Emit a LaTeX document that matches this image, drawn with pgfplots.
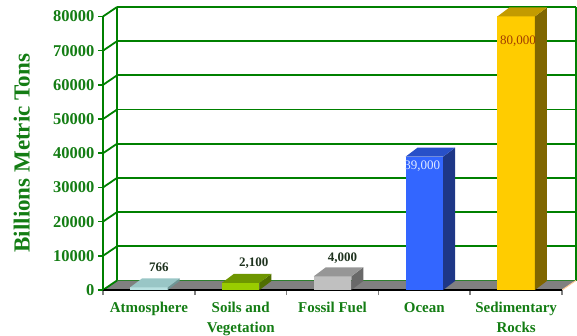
\documentclass[border=0pt]{standalone}
\usepackage{fontspec}
\setmainfont{Liberation Serif}
\usepackage{pgfplots}
\pgfplotsset{compat=1.18}

\definecolor{wallgreen}{RGB}{0,128,0}
\definecolor{labelgreen}{RGB}{20,125,20}
\definecolor{floorgray}{RGB}{128,128,128}
\definecolor{baseline}{RGB}{0,51,0}
\definecolor{peach}{RGB}{255,204,153}
\definecolor{valdark}{RGB}{30,50,30}
\definecolor{vallight}{RGB}{225,235,255}
\definecolor{valbrown}{RGB}{160,60,0}
% bar colours: front / top / side
\definecolor{atmF}{RGB}{185,225,225}
\definecolor{atmT}{RGB}{153,198,198}
\definecolor{atmS}{RGB}{110,150,150}
\definecolor{soilF}{RGB}{153,204,0}
\definecolor{soilT}{RGB}{110,150,0}
\definecolor{soilS}{RGB}{80,110,0}
\definecolor{fosF}{RGB}{192,192,192}
\definecolor{fosT}{RGB}{150,150,150}
\definecolor{fosS}{RGB}{105,105,105}
\definecolor{ocnF}{RGB}{51,102,255}
\definecolor{ocnT}{RGB}{40,80,200}
\definecolor{ocnS}{RGB}{30,55,135}
\definecolor{sedF}{RGB}{255,204,0}
\definecolor{sedT}{RGB}{195,155,0}
\definecolor{sedS}{RGB}{128,102,0}

% top face of a column: the point is the middle of its front top edge
\pgfdeclareplotmark{column top}{%
  \pgfpathmoveto{\pgfqpoint{-18.75pt}{0pt}}%
  \pgfpathlineto{\pgfqpoint{-6.75pt}{9pt}}%
  \pgfpathlineto{\pgfqpoint{30.75pt}{9pt}}%
  \pgfpathlineto{\pgfqpoint{18.75pt}{0pt}}%
  \pgfpathclose
  \pgfusepathqfill
}
% right face of a column, reaching down to the floor by the column's value
\pgfdeclareplotmark{column side}{%
  \pgfpathmoveto{\pgfqpoint{18.75pt}{0pt}}%
  \pgfpathlineto{\pgfqpoint{30.75pt}{9pt}}%
  \pgfpathlineto{\pgfpointadd{\pgfqpoint{30.75pt}{9pt}}{\pgfplotspointaxisdirectionxy{0}{-\barval}}}%
  \pgfpathlineto{\pgfpointadd{\pgfqpoint{18.75pt}{0pt}}{\pgfplotspointaxisdirectionxy{0}{-\barval}}}%
  \pgfpathclose
  \pgfusepathqfill
}

\pgfplotsset{
  front face/.style={ybar, bar width=37.5pt, bar shift=0pt, fill=#1, draw=none},
  top face/.style={only marks, mark=column top, mark options={fill=#1, draw=none}},
  side face/.style={only marks, mark=column side, mark options={fill=#1, draw=none},
    visualization depends on={rawy \as \barval}},
  value label/.style n args={4}{
    point meta=y,
    nodes near coords={\pgfmathprintnumber[fixed,1000 sep={,},assume math mode=true]{\pgfplotspointmeta}},
    every node near coord/.style={anchor=center, xshift=#1, yshift=#2, text=#3, font=\fontsize{13}{15}\selectfont#4},
  },
}

\begin{document}
\begin{tikzpicture}
\path[use as bounding box] (0pt,0pt) rectangle (577pt,335pt);

% back wall with grid, floor and side-wall diagonals
\begin{axis}[
  scale only axis, width=459pt, height=273.5pt,
  at={(117pt,54.5pt)}, anchor=south west,
  xmin=0, xmax=5, ymin=0, ymax=80000, clip=false,
  scaled x ticks=false, scaled y ticks=false,
  xtick={0,5},
  ytick={0,10000,20000,30000,40000,50000,60000,70000,80000},
  xticklabels={}, yticklabels={},
  major tick length=0pt,
  axis line style={draw=none},
  xmajorgrids, ymajorgrids,
  grid style={wallgreen, line width=1.8pt},
]
\fill[floorgray] (axis cs:0,0) -- (axis cs:5,0) -- ++(-14pt,-9.5pt) -- ++(-459pt,0pt) -- cycle;
\draw[peach, line width=1pt] (axis cs:5,0) -- ++(-14pt,-9.5pt);
\pgfplotsinvokeforeach{0,10000,20000,30000,40000,50000,60000,70000,80000}{
  \draw[wallgreen, line width=1.8pt] (axis cs:0,#1) -- ++(-14pt,-9.5pt);
}
\end{axis}

% front axis with the columns
\begin{axis}[
  scale only axis, width=459pt, height=273.5pt,
  at={(103pt,45pt)}, anchor=south west,
  xmin=0, xmax=5, ymin=0, ymax=80000, clip=false,
  scaled x ticks=false, scaled y ticks=false,
  axis x line*=bottom, axis y line*=left,
  axis line style={-},
  x axis line style={baseline, line width=1.8pt},
  y axis line style={wallgreen, line width=1.8pt},
  xtick={0.5,1.5,2.5,3.5,4.5},
  xticklabels={Atmosphere,{Soils and\\Vegetation},Fossil Fuel,Ocean,{Sedimentary\\Rocks}},
  minor xtick={0,1,2,3,4,5},
  ytick={0,10000,20000,30000,40000,50000,60000,70000,80000},
  yticklabels={0,10000,20000,30000,40000,50000,60000,70000,80000},
  tick align=outside,
  major tick length=5pt, minor tick length=5pt,
  major x tick style={draw=none},
  minor x tick style={baseline, line width=1.6pt},
  y tick style={wallgreen, line width=1.6pt},
  xticklabel style={font=\fontsize{15}{19.5}\selectfont\bfseries, text=labelgreen, align=center, yshift=-4pt},
  yticklabel style={font=\fontsize{16.5}{19}\selectfont\bfseries, text=labelgreen},
  ylabel={Billions Metric Tons},
  ylabel style={font=\fontsize{23}{27}\selectfont\bfseries, text=labelgreen,
    at={(axis description cs:-0.177,0.5)}, anchor=center},
]
\addplot[front face=atmF] coordinates {(0.5,766)};
\addplot[side face=atmS] coordinates {(0.5,766)};
\addplot[top face=atmT, value label={10pt}{20pt}{valdark}{\bfseries}] coordinates {(0.5,766)};
\addplot[front face=soilF] coordinates {(1.5,2100)};
\addplot[side face=soilS] coordinates {(1.5,2100)};
\addplot[top face=soilT, value label={13pt}{20pt}{valdark}{\bfseries}] coordinates {(1.5,2100)};
\addplot[front face=fosF] coordinates {(2.5,4000)};
\addplot[side face=fosS] coordinates {(2.5,4000)};
\addplot[top face=fosT, value label={10pt}{18pt}{valdark}{\bfseries}] coordinates {(2.5,4000)};
\addplot[front face=ocnF] coordinates {(3.5,39000)};
\addplot[side face=ocnS] coordinates {(3.5,39000)};
\addplot[top face=ocnT, value label={-2pt}{-10pt}{vallight}{}] coordinates {(3.5,39000)};
\addplot[front face=sedF] coordinates {(4.5,80000)};
\addplot[side face=sedS] coordinates {(4.5,80000)};
\addplot[top face=sedT, value label={2pt}{-25pt}{valbrown}{}] coordinates {(4.5,80000)};
\end{axis}
\end{tikzpicture}
\end{document}
